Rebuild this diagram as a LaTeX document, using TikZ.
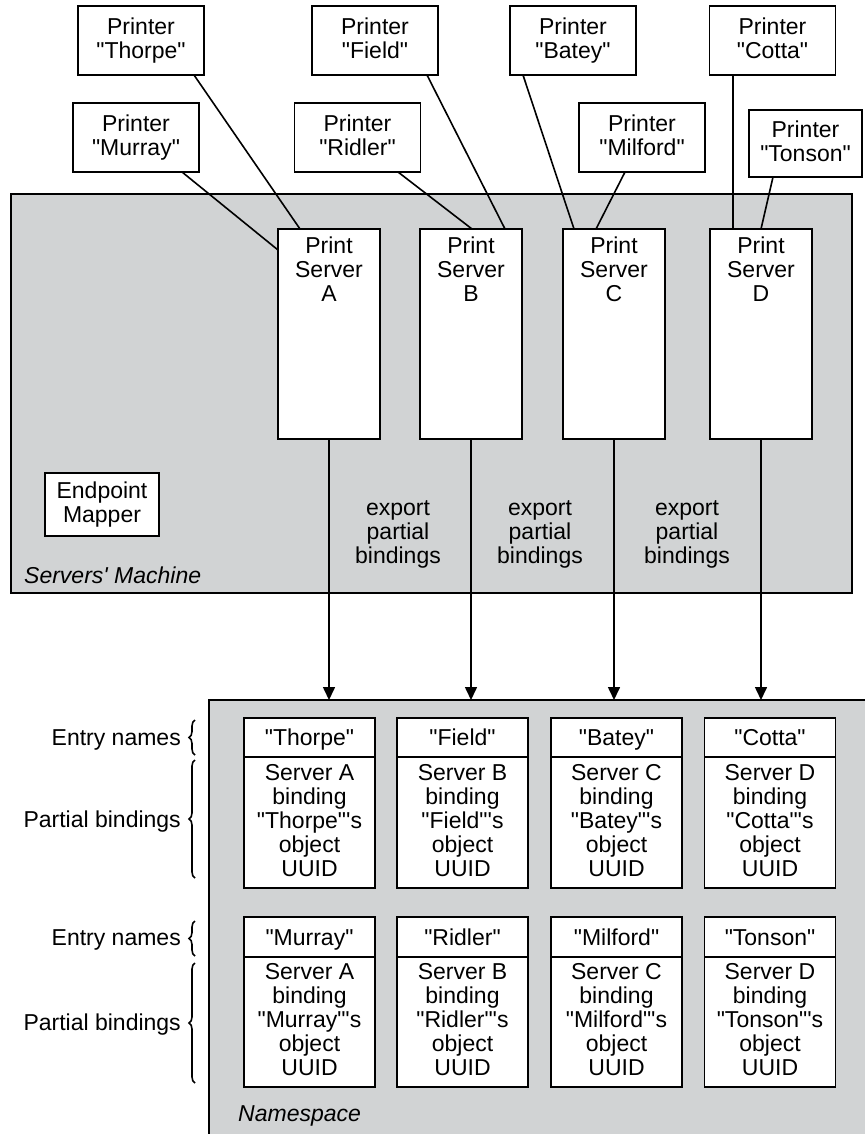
\documentclass[tikz,border=0pt]{standalone}
\usepackage{fontspec}
\setmainfont{Liberation Sans}[Ligatures=TeXOff]
\usetikzlibrary{arrows.meta,decorations.pathreplacing,positioning}
\definecolor{areagray}{RGB}{209,211,212}

\begin{document}
\begin{tikzpicture}[x=1pt,y=-1pt,
	>={Triangle[length=13pt,width=12pt]},
	every node/.style={font=\fontsize{23}{24}\selectfont,align=center,
		execute at begin node=\rule{0pt}{21pt},
		execute at end node=\rule[-5pt]{0pt}{5pt}},
	box/.style={draw,fill=white,line width=1.7pt,inner sep=0pt,outer sep=0pt},
	printer/.style={box,minimum width=126pt,minimum height=69pt},
	server/.style={box,minimum width=102pt,minimum height=210pt,anchor=north},
	entry/.style={box,minimum width=131pt,minimum height=39.5pt},
	binding/.style={box,minimum width=131pt,minimum height=130.5pt},
	area/.style={draw,fill=areagray,line width=1.7pt,inner sep=0pt,outer sep=0pt},
	arealabel/.style={anchor=base west,inner sep=0pt,font=\fontsize{23}{24}\selectfont\itshape},
	sidelabel/.style={anchor=east,inner sep=0pt},
	wire/.style={line width=1.6pt},
	mybrace/.style={decorate,decoration={brace,amplitude=6pt},line width=1.6pt}]
	
	\useasboundingbox (0,0) rectangle (864,1134);
	
	% the two grey areas
	\node[area,minimum width=841pt,minimum height=399pt] (machine) at (431.5,393.5) {};
	\node[area,minimum width=665pt,minimum height=444pt] (namespace) at (541.5,922) {};
	\node[arealabel] (machinelbl) at (24,583) {Servers' Machine};
	\node[arealabel] (namespacelbl) at (238,1121) {Namespace};
	
	\node[box,minimum width=114pt,minimum height=63pt] (epm) at (102,504.5) {Endpoint\\Mapper};
	
	% print servers
	\foreach \s/\x in {A/329,B/471,C/614,D/761} {
		\node[server] (ps\s) at (\x,229) {};
		\node[anchor=north,inner sep=0pt] (ps\s txt) at ([yshift=-7.5pt]ps\s.north) {Print\\Server\\\s};
	}
	
	% printers
	\node[printer] (thorpe)  at (141,40.5)   {Printer\\"Thorpe"};
	\node[printer] (murray)  at (136,137.5)  {Printer\\"Murray"};
	\node[printer] (field)   at (375,40.5)   {Printer\\"Field"};
	\node[printer] (ridler)  at (357.5,137.5) {Printer\\"Ridler"};
	\node[printer] (batey)   at (573,40.5)   {Printer\\"Batey"};
	\node[printer] (milford) at (642,137.5)  {Printer\\"Milford"};
	\node[printer] (cotta)   at (772.5,40.5) {Printer\\"Cotta"};
	\node[printer,minimum width=113pt,minimum height=67pt] (tonson) at (805.5,143.5) {Printer\\"Tonson"};
	
	\draw[wire] ([xshift=53pt]thorpe.south)    -- ([xshift=-29pt]psA.north);
	\draw[wire] ([xshift=46pt]murray.south)    -- ([yshift=-21pt]psA.north west);
	\draw[wire] ([xshift=52pt]field.south)     -- ([xshift=34pt]psB.north);
	\draw[wire] ([xshift=40.5pt]ridler.south)  -- ([xshift=1pt]psB.north);
	\draw[wire] ([xshift=-50pt]batey.south)    -- ([xshift=-40pt]psC.north);
	\draw[wire] ([xshift=-17pt]milford.south)  -- ([xshift=-18pt]psC.north);
	\draw[wire] ([xshift=-39.5pt]cotta.south)  -- ([xshift=-28pt]psD.north);
	\draw[wire] ([xshift=-32.5pt]tonson.south) -- (psD.north);
	
	% exports
	\foreach \s in {A,B,C,D}
		\draw[wire,->] (ps\s.south) -- (ps\s.south |- namespace.north);
	\foreach \x [count=\i] in {398,540,687}
		\node (export\i) at (\x,535) {export\\partial\\bindings};
	
	% namespace entries
	\foreach \s/\x/\a/\b in {A/309.5/Thorpe/Murray,B/462.5/Field/Ridler,C/616.5/Batey/Milford,D/770/Cotta/Tonson} {
		\node[entry] (nameup\s) at (\x,737.5) {"\a"};
		\node[binding,below=0pt of nameup\s] (bindup\s) {Server \s\\binding\\"\a"'s\\object\\UUID};
		\node[entry] (namelow\s) at (\x,937) {"\b"};
		\node[binding,below=0pt of namelow\s] (bindlow\s) {Server \s\\binding\\"\b"'s\\object\\UUID};
	}
	
	\node[sidelabel] (entryup)    at (181,737.5) {Entry names};
	\node[sidelabel] (partialup)  at (181,819)   {Partial bindings};
	\node[sidelabel] (entrylow)   at (181,937)   {Entry names};
	\node[sidelabel] (partiallow) at (181,1022)  {Partial bindings};
	\draw[mybrace] (195,755) -- (195,720);
	\draw[mybrace] (195,878) -- (195,760);
	\draw[mybrace] (195,956) -- (195,921);
	\draw[mybrace] (195,1083) -- (195,963);
\end{tikzpicture}
\end{document}
